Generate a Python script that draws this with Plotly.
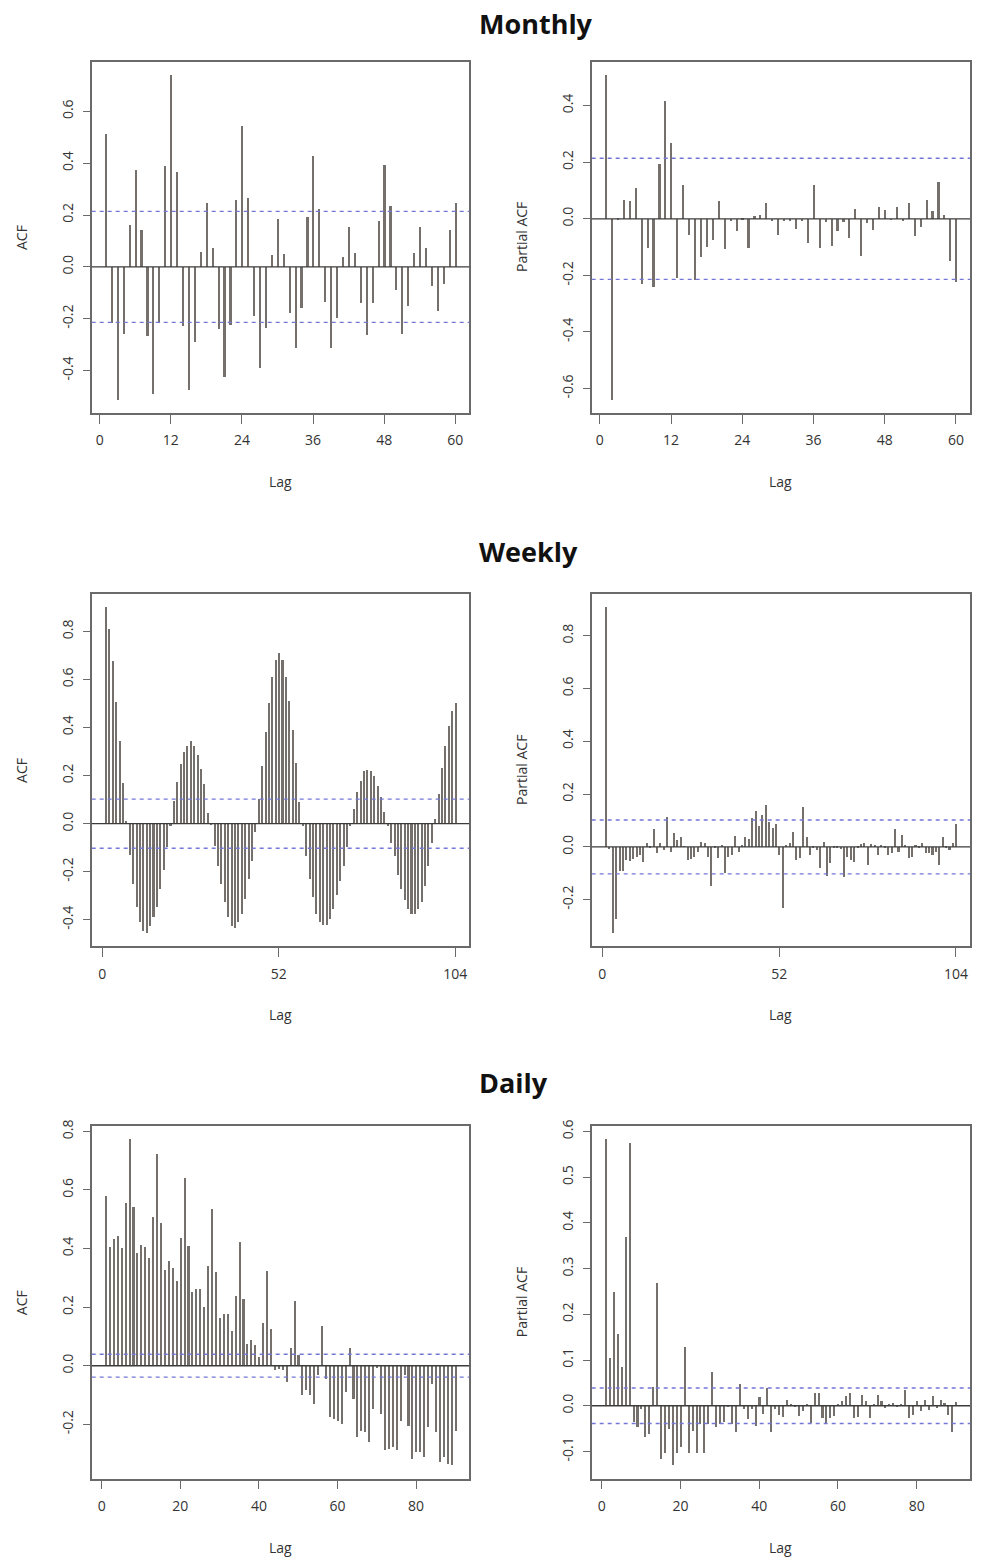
import plotly.graph_objects as go

# ---------------- data ----------------
monthly_acf = [0.513, -0.214, -0.513, -0.259, 0.164, 0.376, 0.143, -0.265, -0.49, -0.214,
               0.389, 0.741, 0.367, -0.227, -0.475, -0.29, 0.057, 0.248, 0.075, -0.238,
               -0.423, -0.223, 0.257, 0.544, 0.268, -0.189, -0.389, -0.236, 0.047, 0.187,
               0.05, -0.176, -0.312, -0.157, 0.194, 0.429, 0.225, -0.134, -0.312, -0.195,
               0.038, 0.153, 0.054, -0.14, -0.261, -0.14, 0.176, 0.392, 0.234, -0.089,
               -0.259, -0.15, 0.055, 0.153, 0.073, -0.074, -0.169, -0.065, 0.145, 0.248]

monthly_pacf = [0.509, -0.64, 0.005, 0.068, 0.065, 0.111, -0.23, -0.102, -0.24, 0.196,
                0.416, 0.267, -0.207, 0.12, -0.058, -0.216, -0.133, -0.098, -0.073, 0.065,
                -0.105, -0.008, -0.044, 0.004, -0.102, 0.009, 0.015, 0.055, -0.005, -0.055,
                -0.006, -0.005, -0.035, -0.005, -0.083, 0.119, -0.103, -0.009, -0.097, -0.042,
                -0.009, -0.068, 0.036, -0.132, -0.015, -0.039, 0.043, 0.032, -0.002, 0.042,
                -0.004, 0.057, -0.06, -0.027, 0.069, 0.028, 0.132, 0.016, -0.15, -0.222]

weekly_acf = [0.90, 0.81, 0.675, 0.506, 0.343, 0.167, 0.01, -0.13, -0.252, -0.349,
              -0.411, -0.45, -0.455, -0.427, -0.39, -0.349, -0.272, -0.194, -0.10, -0.01,
              0.091, 0.173, 0.246, 0.295, 0.322, 0.343, 0.322, 0.285, 0.225, 0.163,
              0.043, -0.005, -0.093, -0.176, -0.252, -0.328, -0.39, -0.427, -0.436, -0.411,
              -0.376, -0.314, -0.23, -0.155, -0.037, 0.10, 0.24, 0.38, 0.50, 0.61,
              0.68, 0.71, 0.68, 0.61, 0.51, 0.39, 0.25, 0.09, -0.01, -0.134,
              -0.231, -0.307, -0.376, -0.411, -0.425, -0.425, -0.397, -0.355, -0.30, -0.238,
              -0.176, -0.10, -0.01, 0.06, 0.129, 0.177, 0.219, 0.223, 0.219, 0.195,
              0.156, 0.108, 0.046, -0.01, -0.08, -0.134, -0.217, -0.272, -0.32, -0.355,
              -0.376, -0.376, -0.355, -0.328, -0.259, -0.176, -0.08, 0.018, 0.12, 0.23,
              0.32, 0.405, 0.467, 0.50]

weekly_pacf = [0.907, -0.01, -0.326, -0.276, -0.094, -0.092, -0.05, -0.055, -0.046, -0.04,
               -0.031, -0.059, 0.013, -0.006, 0.067, -0.025, 0.013, -0.013, 0.113, -0.019,
               0.05, 0.025, 0.038, 0.002, -0.05, -0.046, -0.038, -0.019, 0.016, 0.013,
               -0.038, -0.15, -0.005, -0.044, 0.005, -0.10, -0.038, -0.031, 0.041, -0.019,
               0.005, 0.037, 0.03, 0.107, 0.134, 0.079, 0.119, 0.159, 0.094, 0.072,
               0.084, -0.03, -0.232, 0.005, 0.013, 0.054, -0.05, -0.044, 0.15, 0.038,
               -0.03, -0.005, -0.013, -0.082, 0.019, -0.113, -0.063, -0.005, -0.005, -0.01,
               -0.117, -0.038, -0.05, -0.059, -0.005, 0.009, 0.013, -0.069, 0.009, 0.004,
               -0.03, 0.004, -0.005, -0.03, -0.025, 0.067, -0.019, 0.044, 0.005, -0.044,
               -0.041, 0.003, -0.004, 0.013, -0.025, -0.025, -0.031, -0.019, -0.069, 0.038,
               -0.006, -0.013, 0.013, 0.084]

daily_acf = [0.58, 0.403, 0.432, 0.443, 0.401, 0.553, 0.773, 0.54, 0.383, 0.411,
             0.403, 0.366, 0.506, 0.722, 0.486, 0.327, 0.355, 0.332, 0.29, 0.436,
             0.639, 0.407, 0.252, 0.26, 0.26, 0.201, 0.341, 0.534, 0.318, 0.163,
             0.175, 0.175, 0.119, 0.236, 0.423, 0.227, 0.074, 0.086, 0.07, 0.028,
             0.145, 0.324, 0.125, -0.017, -0.011, -0.017, -0.057, 0.059, 0.219, 0.036,
             -0.102, -0.085, -0.102, -0.131, -0.034, 0.136, -0.045, -0.176, -0.182, -0.188,
             -0.199, -0.091, 0.061, -0.114, -0.244, -0.222, -0.227, -0.261, -0.148, -0.01,
             -0.165, -0.29, -0.284, -0.278, -0.29, -0.188, -0.034, -0.205, -0.318, -0.295,
             -0.295, -0.3125, -0.21, -0.0625, -0.227, -0.33, -0.3125, -0.335, -0.341, -0.222]

daily_pacf = [0.583, 0.103, 0.249, 0.156, 0.084, 0.369, 0.575, -0.036, -0.047, -0.007,
              -0.069, -0.062, 0.04, 0.269, -0.116, -0.105, -0.051, -0.131, -0.105, -0.09,
              0.127, -0.105, -0.055, -0.105, -0.04, -0.105, -0.04, 0.073, -0.047, -0.04,
              -0.036, -0.003, -0.04, -0.058, 0.047, -0.007, -0.029, -0.007, -0.044, 0.018,
              -0.018, 0.038, -0.058, -0.007, -0.02, -0.026, 0.012, 0.002, -0.003, -0.023,
              -0.013, 0.003, -0.039, 0.027, 0.027, -0.028, -0.041, -0.028, -0.024, 0.003,
              0.01, 0.02, 0.027, -0.028, -0.026, 0.023, 0.01, -0.028, 0.003, 0.023,
              0.009, -0.006, 0.003, 0.005, -0.004, 0.002, 0.034, -0.028, -0.02, 0.009,
              -0.012, 0.012, -0.009, 0.02, -0.006, 0.012, 0.005, -0.02, -0.057, 0.007]

# confidence bounds (+/-) for each frequency
ci_monthly = 0.214
ci_weekly = 0.102
ci_daily = 0.039

monthly_xticks = [0, 12, 24, 36, 48, 60]
weekly_xticks = [0, 52, 104]
daily_xticks = [0, 20, 40, 60, 80]

monthly_acf_yticks = [-0.4, -0.2, 0.0, 0.2, 0.4, 0.6]
monthly_pacf_yticks = [-0.6, -0.4, -0.2, 0.0, 0.2, 0.4]
weekly_acf_yticks = [-0.4, -0.2, 0.0, 0.2, 0.4, 0.6, 0.8]
weekly_pacf_yticks = [-0.2, 0.0, 0.2, 0.4, 0.6, 0.8]
daily_acf_yticks = [-0.2, 0.0, 0.2, 0.4, 0.6, 0.8]
daily_pacf_yticks = [-0.1, 0.0, 0.1, 0.2, 0.3, 0.4, 0.5, 0.6]

# ---------------- layout geometry ----------------
W, H = 982, 1560
col_x = [(91.7, 469.3), (591.7, 970.0)]
row_y = [(55.0, 407.7), (590.0, 943.3), (1124.3, 1478.3)]
row_titles = ["Monthly", "Weekly", "Daily"]

panels = [
    # (row, col, values, ci, xticks, yticks, bar width, ylabel)
    (0, 0, monthly_acf, ci_monthly, monthly_xticks, monthly_acf_yticks, 0.36, "ACF"),
    (0, 1, monthly_pacf, ci_monthly, monthly_xticks, monthly_pacf_yticks, 0.36, "Partial ACF"),
    (1, 0, weekly_acf, ci_weekly, weekly_xticks, weekly_acf_yticks, 0.6, "ACF"),
    (1, 1, weekly_pacf, ci_weekly, weekly_xticks, weekly_pacf_yticks, 0.6, "Partial ACF"),
    (2, 0, daily_acf, ci_daily, daily_xticks, daily_acf_yticks, 0.52, "ACF"),
    (2, 1, daily_pacf, ci_daily, daily_xticks, daily_pacf_yticks, 0.52, "Partial ACF"),
]

BAR = "#75706b"
FRAME = "#6a6a6a"
DASH = "#7478d8"
TXT = "#333333"
FONT = "Open Sans"

fig = go.Figure()
annotations = []
shapes = []


def fmt(v):
    return "%.1f" % v


for i, (r, c, vals, ci, xt, yt, bw, ylab) in enumerate(panels):
    n = len(vals)
    lags = list(range(1, n + 1))
    ax = "" if i == 0 else str(i + 1)
    xref, yref = "x" + ax, "y" + ax

    x0, x1 = col_x[c]
    yt0, yb0 = row_y[r]
    xdom = [x0 / W, x1 / W]
    ydom = [1 - yb0 / H, 1 - yt0 / H]

    # R-style 4% axis padding
    xspan = n - 1
    xr = [1 - 0.04 * xspan, n + 0.04 * xspan]
    lo = min(min(vals), -ci)
    hi = max(max(vals), ci)
    pad = 0.04 * (hi - lo)
    yr = [lo - pad, hi + pad]

    fig.add_trace(go.Bar(x=lags, y=vals, width=bw, marker_color=BAR,
                         marker_line_width=0, xaxis=xref, yaxis=yref,
                         showlegend=False, hoverinfo="x+y"))

    axis_common = dict(showline=True, linecolor=FRAME, linewidth=1.5, mirror=True,
                       ticks="outside", tickcolor=FRAME, tickwidth=1.2,
                       showgrid=False, zeroline=False,
                       tickfont=dict(family=FONT, size=14, color=TXT))
    fig.layout["xaxis" + ax] = dict(domain=xdom, range=xr, anchor=yref,
                                    tickvals=xt, ticktext=[str(v) for v in xt],
                                    ticklen=9, ticklabelstandoff=5, **axis_common)
    fig.layout["yaxis" + ax] = dict(domain=ydom, range=yr, anchor=xref,
                                    tickvals=yt, ticktext=[fmt(v) for v in yt],
                                    tickangle=-90, ticklen=7, ticklabelstandoff=4,
                                    **axis_common)

    # zero line and confidence bounds
    shapes.append(dict(type="line", xref=xref + " domain", yref=yref, x0=0, x1=1,
                       y0=0, y1=0, line=dict(color="#3c3c3c", width=1.3)))
    for s in (ci, -ci):
        shapes.append(dict(type="line", xref=xref + " domain", yref=yref, x0=0, x1=1,
                           y0=s, y1=s, line=dict(color=DASH, width=1.4, dash="4px,4px")))

    # axis titles
    annotations.append(dict(text="Lag", x=(x0 + x1) / 2 / W, y=1 - (yb0 + 69) / H,
                            xref="paper", yref="paper", showarrow=False,
                            xanchor="center", yanchor="middle",
                            font=dict(family=FONT, size=14, color=TXT)))
    annotations.append(dict(text=ylab, x=(x0 - 70) / W, y=1 - (yt0 + yb0) / 2 / H,
                            xref="paper", yref="paper", showarrow=False, textangle=-90,
                            xanchor="center", yanchor="middle",
                            font=dict(family=FONT, size=14, color=TXT)))

title_y = [17, 547, 1080]
for t, ty in zip(row_titles, title_y):
    annotations.append(dict(text="<b>%s</b>" % t, x=477 / W, y=1 - ty / H,
                            xref="paper", yref="paper", showarrow=False,
                            xanchor="left", yanchor="middle",
                            font=dict(family=FONT, size=27, color="#111111")))

fig.update_layout(width=W, height=H, margin=dict(l=0, r=0, t=0, b=0),
                  paper_bgcolor="white", plot_bgcolor="white",
                  annotations=annotations, shapes=shapes, bargap=0)

fig.write_html("out.html")
